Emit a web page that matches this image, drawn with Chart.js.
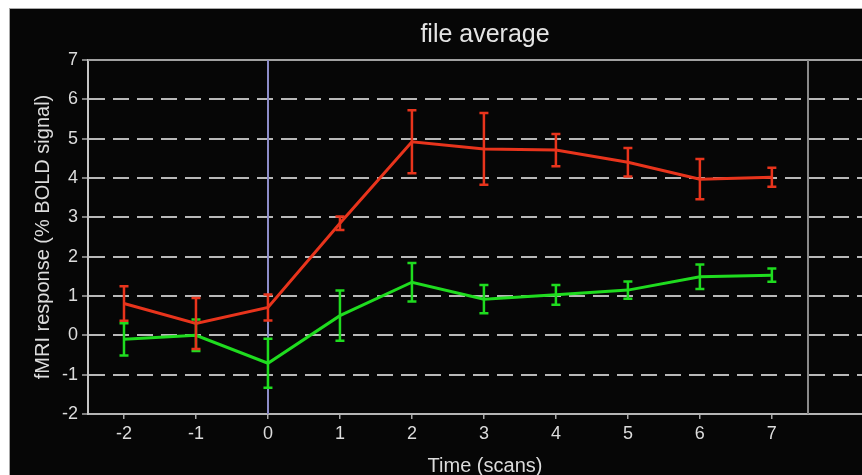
<!DOCTYPE html>
<html>
<head>
<meta charset="utf-8">
<script src="https://cdn.jsdelivr.net/npm/chart.js@4/dist/chart.umd.min.js"></script>
<style>
  html, body { margin: 0; padding: 0; background: #ffffff; width: 862px; height: 475px; overflow: hidden; }
  #frame { position: absolute; left: 9px; top: 8px; width: 853px; height: 467px; overflow: hidden;
           background: #060606; border-top: 1px solid #a8a8a8; border-left: 1px solid #a8a8a8; }
  #frame canvas { display: block; }
</style>
</head>
<body>
<div id="frame"><canvas id="c" width="872" height="467"></canvas></div>
<script>
// Time axis (scans) and the two averaged responses with their error half-widths
const scans      = [-2, -1, 0, 1, 2, 3, 4, 5, 6, 7];
const redMean    = [0.81, 0.30, 0.71, 2.85, 4.92, 4.74, 4.71, 4.40, 3.97, 4.02];
const redErr     = [0.44, 0.65, 0.33, 0.17, 0.80, 0.91, 0.41, 0.36, 0.51, 0.24];
const greenMean  = [-0.10, 0.00, -0.71, 0.50, 1.35, 0.92, 1.03, 1.15, 1.49, 1.53];
const greenErr   = [0.41, 0.40, 0.62, 0.64, 0.49, 0.36, 0.25, 0.22, 0.31, 0.17];
const xTickVals  = [-2, -1, 0, 1, 2, 3, 4, 5, 6, 7];
const yTickVals  = [-2, -1, 0, 1, 2, 3, 4, 5, 6, 7];
const onsetScan  = 0;     // stimulus onset marker
const endScan    = 7.5;   // end-of-window marker

const FONT = "'Liberation Sans', Arial, sans-serif";
const TEXT = '#dcdcdc';

const toPoints = (xs, ys) => xs.map((x, i) => ({ x, y: ys[i] }));

// Onset line, end-of-window line and top frame edge
const refLines = {
  id: 'refLines',
  beforeDatasetsDraw(chart) {
    const { ctx, chartArea: a, scales: { x } } = chart;
    ctx.save();
    ctx.lineWidth = 2;
    ctx.strokeStyle = '#a0a0a0';
    ctx.beginPath();
    ctx.moveTo(a.left, a.top); ctx.lineTo(a.right, a.top);
    ctx.stroke();
    ctx.strokeStyle = '#8c8cc8';
    const x0 = Math.round(x.getPixelForValue(onsetScan));
    ctx.beginPath(); ctx.moveTo(x0, a.top); ctx.lineTo(x0, a.bottom); ctx.stroke();
    ctx.strokeStyle = '#8a8a8a';
    const x1 = Math.round(x.getPixelForValue(endScan));
    ctx.beginPath(); ctx.moveTo(x1, a.top); ctx.lineTo(x1, a.bottom); ctx.stroke();
    ctx.restore();
  }
};

// Vertical error bars with short caps, in each series' colour
const errorBars = {
  id: 'errorBars',
  afterDatasetsDraw(chart) {
    const { ctx, scales: { x, y } } = chart;
    const order = chart.data.datasets.map((d, i) => i).reverse();
    order.forEach(di => {
      const ds = chart.data.datasets[di];
      ctx.save();
      ctx.strokeStyle = ds.borderColor;
      ctx.lineWidth = 2.5;
      ds.data.forEach((p, i) => {
        const e = ds.errors[i];
        const px = x.getPixelForValue(p.x);
        const top = y.getPixelForValue(p.y + e);
        const bot = y.getPixelForValue(p.y - e);
        ctx.beginPath();
        ctx.moveTo(px, top); ctx.lineTo(px, bot);
        ctx.moveTo(px - 4.5, top); ctx.lineTo(px + 4.5, top);
        ctx.moveTo(px - 4.5, bot); ctx.lineTo(px + 4.5, bot);
        ctx.stroke();
      });
      ctx.restore();
    });
  }
};

new Chart(document.getElementById('c'), {
  type: 'line',
  data: {
    datasets: [
      { data: toPoints(scans, redMean), errors: redErr, borderColor: '#e8341c',
        borderWidth: 3, pointRadius: 0, tension: 0 },
      { data: toPoints(scans, greenMean), errors: greenErr, borderColor: '#1fdc1f',
        borderWidth: 3, pointRadius: 0, tension: 0 }
    ]
  },
  options: {
    responsive: false,
    animation: false,
    layout: { padding: 0 },
    plugins: {
      legend: { display: false },
      tooltip: { enabled: false },
      title: {
        display: true, text: 'file average', fullSize: false, color: '#e4e4e4',
        font: { family: FONT, size: 25, weight: 'normal' },
        padding: { top: 11, bottom: 10 }
      }
    },
    scales: {
      x: {
        type: 'linear', min: -2.5, max: 8.53,
        afterBuildTicks: s => { s.ticks = xTickVals.map(v => ({ value: v })); },
        afterFit: s => { s.height = 62; },
        grid: { display: true, drawOnChartArea: false, drawTicks: true, tickLength: 5,
                color: '#a8a8a8', lineWidth: 1.5 },
        border: { display: true, color: '#b4b4b4', width: 2 },
        ticks: { color: TEXT, font: { family: FONT, size: 18 }, padding: 4,
                 maxRotation: 0, autoSkip: false },
        title: { display: true, text: 'Time (scans)', color: TEXT,
                 font: { family: FONT, size: 20 }, padding: { top: 0, bottom: -2 } }
      },
      y: {
        type: 'linear', min: -2, max: 7,
        afterBuildTicks: s => { s.ticks = yTickVals.map(v => ({ value: v })); },
        afterFit: s => { s.width = 78; },
        grid: {
          color: c => (c.tick && (c.tick.value === -2 || c.tick.value === 7)) ? 'rgba(0,0,0,0)' : '#b8b8b8',
          lineWidth: 2, tickColor: '#a8a8a8', tickLength: 6, tickWidth: 1.5
        },
        border: { display: true, color: '#c4c4c4', width: 2, dash: [16, 8] },
        ticks: { color: TEXT, font: { family: FONT, size: 18 }, padding: 4 },
        title: { display: true, text: 'fMRI response (% BOLD signal)', color: TEXT,
                 font: { family: FONT, size: 20 }, padding: { top: 21, bottom: 0 } }
      }
    }
  },
  plugins: [refLines, errorBars]
});
</script>
</body>
</html>
